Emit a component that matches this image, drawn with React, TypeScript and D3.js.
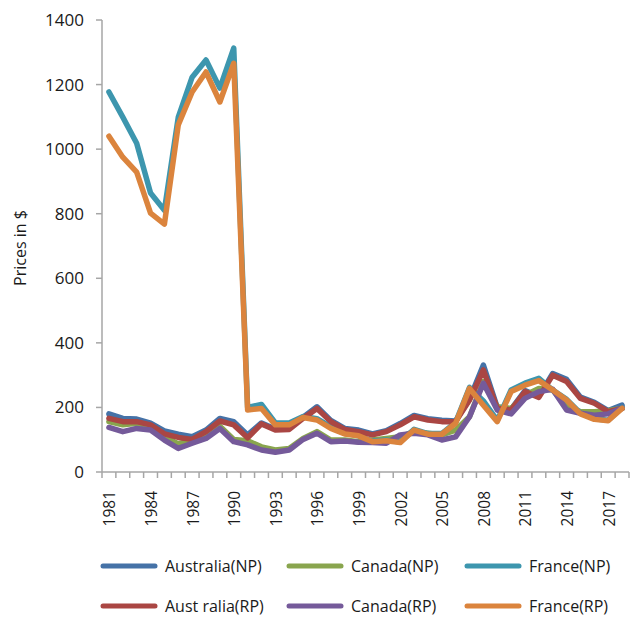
import React from "react";
import * as d3 from "d3";

const years: number[] = [
  1981, 1982, 1983, 1984, 1985, 1986, 1987, 1988, 1989, 1990,
  1991, 1992, 1993, 1994, 1995, 1996, 1997, 1998, 1999, 2000,
  2001, 2002, 2003, 2004, 2005, 2006, 2007, 2008, 2009, 2010,
  2011, 2012, 2013, 2014, 2015, 2016, 2017, 2018,
];

const australiaNP = [180,166,164,151,127,117,109,130,166,156,115,152,133,135,170,202,160,135,130,118,128,150,175,165,160,158,226,331,200,195,252,234,305,287,232,216,190,207];
const canadaNP = [156,146,151,142,109,87,99,115,142,101,97,78,68,73,104,125,99,99,94,99,104,109,125,120,115,130,171,280,202,197,238,259,254,202,187,187,190,197];
const franceNP = [1177,1099,1018,864,811,1099,1223,1276,1189,1313,200,209,152,152,172,165,140,120,112,96,99,93,132,119,119,154,262,220,160,254,275,290,254,225,182,165,160,200];
const australiaRP = [166,156,156,146,118,107,101,125,158,146,106,149,130,132,166,197,156,132,125,115,125,146,171,161,156,156,223,316,197,192,249,231,300,280,228,213,187,197];
const canadaRP = [138,125,135,130,99,73,89,104,135,94,84,68,61,68,101,120,94,96,92,91,89,115,120,115,99,109,171,275,192,180,228,249,256,192,182,176,180,197];
const franceRP = [1040,975,929,802,768,1075,1177,1239,1146,1266,192,197,146,146,169,161,135,118,112,94,97,91,130,117,117,151,259,207,156,249,269,283,254,223,180,163,159,197];

const seriesNames = ["Australia(NP)", "Canada(NP)", "France(NP)", "Aust ralia(RP)", "Canada(RP)", "France(RP)"];
const seriesValues = [australiaNP, canadaNP, franceNP, australiaRP, canadaRP, franceRP];
const seriesColors = ["#4572A7", "#89A54E", "#3D96AE", "#AA4643", "#755A9A", "#DB843D"];

const yTicks = [0, 200, 400, 600, 800, 1000, 1200, 1400];
const xLabelYears = [1981, 1984, 1987, 1990, 1993, 1996, 1999, 2002, 2005, 2008, 2011, 2014, 2017];

const W = 632;
const H = 617;
const left = 102;
const right = 629;
const top = 20;
const bottom = 472;
const font = "'Open Sans', 'Noto Sans', sans-serif";
const axisColor = "#a6a6a6";

export default function App() {
  const x = d3.scaleBand<number>().domain(years).range([left, right]).padding(0);
  const y = d3.scaleLinear().domain([0, 1400]).range([bottom, top]);
  const cx = (yr: number) => (x(yr) as number) + x.bandwidth() / 2;
  const line = d3
    .line<number>()
    .x((_, i) => cx(years[i]))
    .y((v) => y(v));

  const boundaries = years.map((yr) => x(yr) as number).concat([right]);

  const legendCols = [103, 289, 467];
  const legendRows = [566, 606];

  return (
    <svg
      width={W}
      height={H}
      style={{ position: "absolute", left: 0, top: 0, background: "#fff" }}
      fontFamily={font}
    >
      {/* y axis */}
      <line x1={left} x2={left} y1={top} y2={bottom} stroke={axisColor} strokeWidth={1.5} />
      {yTicks.map((t) => (
        <g key={t}>
          <line x1={left - 6} x2={left} y1={y(t)} y2={y(t)} stroke={axisColor} strokeWidth={1.5} />
          <text x={84} y={y(t)} dy="0.35em" textAnchor="end" fontSize={17} fill="#1a1a1a">
            {t}
          </text>
        </g>
      ))}
      <text
        transform={`translate(20, ${(top + bottom) / 2 + 2}) rotate(-90)`}
        textAnchor="middle"
        dy="0.35em"
        fontSize={16}
        fill="#1a1a1a"
      >
        Prices in $
      </text>

      {/* x axis */}
      <line x1={left} x2={right} y1={bottom} y2={bottom} stroke={axisColor} strokeWidth={1.5} />
      {boundaries.map((bx, i) => (
        <line key={i} x1={bx} x2={bx} y1={bottom} y2={bottom + 6} stroke={axisColor} strokeWidth={1.5} />
      ))}
      {xLabelYears.map((yr) => (
        <text
          key={yr}
          transform={`translate(${cx(yr) + 1}, ${bottom + 19}) rotate(-90)`}
          textAnchor="end"
          dy="0.35em"
          fontSize={15.5}
          fill="#1a1a1a"
        >
          {yr}
        </text>
      ))}

      {/* lines */}
      {seriesValues.map((vals, i) => (
        <path
          key={seriesNames[i]}
          d={line(vals) || ""}
          fill="none"
          stroke={seriesColors[i]}
          strokeWidth={5.5}
          strokeLinejoin="round"
          strokeLinecap="round"
        />
      ))}

      {/* legend */}
      {seriesNames.map((name, i) => {
        const col = i % 3;
        const row = Math.floor(i / 3);
        const lx = legendCols[col];
        const ly = legendRows[row];
        return (
          <g key={name}>
            <line
              x1={lx}
              x2={lx + 52}
              y1={ly}
              y2={ly}
              stroke={seriesColors[i]}
              strokeWidth={5}
              strokeLinecap="round"
            />
            <text x={lx + 62} y={ly} dy="0.35em" fontSize={16} fill="#1a1a1a">
              {name}
            </text>
          </g>
        );
      })}
    </svg>
  );
}
